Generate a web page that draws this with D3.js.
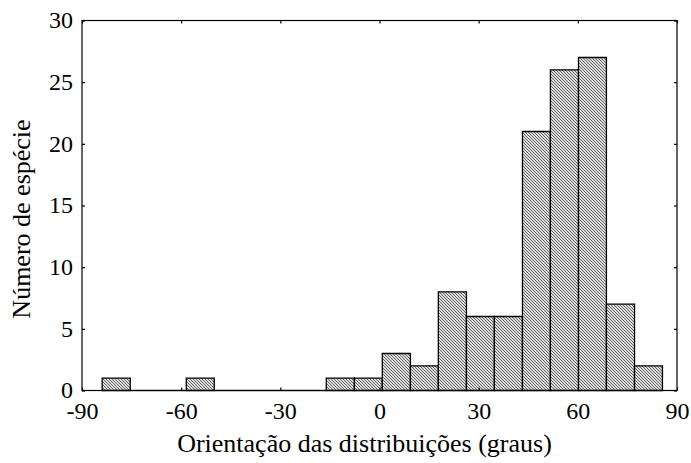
<!DOCTYPE html>
<html><head><meta charset="utf-8">
<script src="https://cdn.jsdelivr.net/npm/d3@7"></script>
<style>body{margin:0;background:#fff}svg{display:block}</style>
</head><body><svg id="c" width="691" height="463"></svg>
<script>
const binEdges = [-83.9,-75.4,-66.9,-58.45,-50,-41.5,-33,-24.55,-16.1,-7.6,0.85,9.35,17.8,26.3,34.75,43.25,51.7,60.2,68.65,77.15,85.6];
const counts = [1,0,0,1,0,0,0,0,1,1,3,2,8,6,6,21,26,27,7,2];
const xTicks = [-90,-60,-30,0,30,60,90];
const yTicks = [0,5,10,15,20,25,30];
const xTitle = "Orientação das distribuições (graus)";
const yTitle = "Número de espécie";

const FONT = "'Liberation Serif','Times New Roman',Times,serif";
const svg = d3.select("#c");
const L = 82, R = 677, T = 20.5, B = 390.5;
const x = d3.scaleLinear().domain([-90,90]).range([L,R]);
const y = d3.scaleLinear().domain([0,30]).range([B,T]);

const defs = svg.append("defs");
const pat = defs.append("pattern").attr("id","hatch").attr("patternUnits","userSpaceOnUse")
  .attr("width",3).attr("height",3);
pat.append("rect").attr("width",3).attr("height",3).attr("fill","#dcdcdc");
pat.append("path").attr("d","M-1,-1 L4,4 M-1,2 L1,4 M2,-1 L4,1").attr("stroke","#666").attr("stroke-width",1);

const bins = counts.map((c,i)=>({x0:binEdges[i],x1:binEdges[i+1],c}));
svg.append("g").selectAll("path").data(bins).join("path")
  .attr("d",d=>{const a=x(d.x0),b=x(d.x1),y0=y(0),y1=y(d.c);
    return d.c>0?`M${a},${y0}V${y1}H${b}V${y0}Z`:`M${a},${y0}H${b}`;})
  .attr("fill",d=>d.c>0?"url(#hatch)":"none").attr("stroke","#000").attr("stroke-width",1.3);

svg.append("rect").attr("x",L).attr("y",T).attr("width",R-L).attr("height",B-T)
  .attr("fill","none").attr("stroke","#000").attr("stroke-width",1.2);

const tl = 3;
const fmt = d=>String(d);
const gb = svg.append("g").attr("transform",`translate(0,${B})`).call(d3.axisBottom(x).tickValues(xTicks).tickSize(-tl).tickPadding(0).tickFormat(fmt));
const gt = svg.append("g").attr("transform",`translate(0,${T})`).call(d3.axisTop(x).tickValues(xTicks).tickSize(-tl).tickFormat(""));
const gl = svg.append("g").attr("transform",`translate(${L},0)`).call(d3.axisLeft(y).tickValues(yTicks).tickSize(-tl).tickPadding(9).tickFormat(fmt));
const gr = svg.append("g").attr("transform",`translate(${R},0)`).call(d3.axisRight(y).tickValues(yTicks).tickSize(-tl).tickFormat(""));
[gb,gt,gl,gr].forEach(g=>{g.attr("font-family",FONT).attr("font-size",24);g.select(".domain").remove();g.selectAll("line").attr("stroke","#000").attr("stroke-width",1.2);});
gb.selectAll("text").attr("fill","#000").attr("y",28.5).attr("dy",0);
gl.selectAll("text").attr("fill","#000").attr("dy","0.31em");

svg.append("text").attr("x",(L+R)/2-15).attr("y",452).attr("text-anchor","middle")
  .attr("font-family",FONT).attr("font-size",26).text(xTitle);
svg.append("text").attr("transform","translate(30,219) rotate(-90)").attr("text-anchor","middle")
  .attr("font-family",FONT).attr("font-size",26).text(yTitle);
</script></body></html>
